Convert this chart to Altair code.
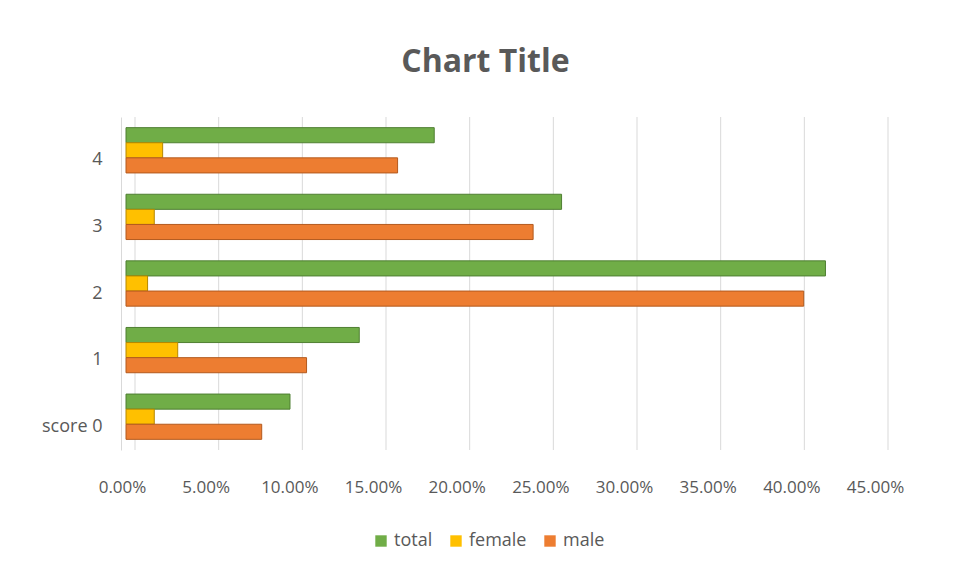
import altair as alt
import pandas as pd

categories = ["score 0", "1", "2", "3", "4"]
total = [0.0980, 0.1394, 0.4180, 0.2603, 0.1842]
female = [0.0169, 0.0309, 0.0129, 0.0169, 0.0219]
male = [0.0811, 0.1079, 0.4050, 0.2433, 0.1623]
series = ["total", "female", "male"]
colors = ["#70ad47", "#ffc000", "#ed7d31"]
edge_colors = ["#4f7f32", "#b58800", "#b35a1e"]
x_ticks = [0.0, 0.05, 0.10, 0.15, 0.20, 0.25, 0.30, 0.35, 0.40, 0.45]

rows = []
for i, c in enumerate(categories):
    for s, vals in zip(series, [total, female, male]):
        rows.append({"category": c, "series": s, "value": vals[i]})
df = pd.DataFrame(rows)
grid_df = pd.DataFrame({"tick": x_ticks})

font = "Open Sans"
gray = "#595959"

x_scale = alt.Scale(domain=[0, 0.45], nice=False, zero=True)
x_axis = alt.Axis(title=None, values=x_ticks, format=".2%", ticks=False, domain=False,
                  grid=False,
                  labelOverlap=False, labelBound=False, labelFlush=False,
                  labelPadding=29, labelOffset=-4, labelFont=font, labelFontSize=17,
                  labelColor=gray)

# back-wall gridlines (Excel 3D look: shifted slightly right of the bars' plane)
grid = alt.Chart(grid_df).mark_rule(color="#d9d9d9", strokeWidth=1).encode(
    x=alt.X("tick:Q", scale=x_scale, axis=x_axis),
    xOffset=alt.value(9),
)

bars = alt.Chart(df).mark_bar(strokeWidth=1).encode(
    y=alt.Y("category:N",
            sort=list(reversed(categories)),
            scale=alt.Scale(paddingInner=0.32, paddingOuter=0.16),
            axis=alt.Axis(title=None, ticks=False, domain=True, domainColor="#d9d9d9",
                          offset=5, labelPadding=19, labelOffset=10,
                          labelFont=font, labelFontSize=18, labelColor=gray)),
    yOffset=alt.YOffset("series:N", sort=series, scale=alt.Scale(paddingInner=0, paddingOuter=0)),
    x=alt.X("value:Q", scale=x_scale, axis=x_axis),
    color=alt.Color("series:N", sort=series,
                    scale=alt.Scale(domain=series, range=colors),
                    legend=alt.Legend(title=None, orient="none", legendX=246, legendY=415,
                                      direction="horizontal", symbolType="square",
                                      symbolSize=130, symbolStrokeWidth=0, labelOffset=4,
                                      columnPadding=14, labelFont=font, labelFontSize=18,
                                      labelColor=gray)),
    stroke=alt.Stroke("series:N", sort=series,
                      scale=alt.Scale(domain=series, range=edge_colors), legend=None),
)

chart = alt.layer(grid, bars).properties(
    width=753,
    height=333,
    title=alt.TitleParams("Chart Title", font=font, fontSize=32, fontWeight="bold",
                          color=gray, anchor="middle", offset=38, dx=-17),
    autosize=alt.AutoSizeParams(type="none"),
    padding={"left": 118, "top": 109, "right": 66, "bottom": 105},
).configure(background="white").configure_view(stroke=None)

chart.save("out.html", embed_options={"renderer": "svg", "actions": False})
